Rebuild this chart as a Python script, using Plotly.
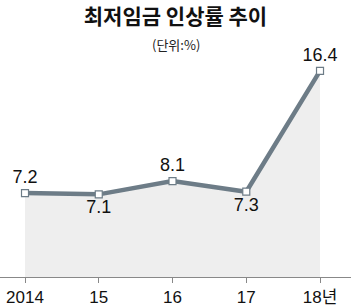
import plotly.graph_objects as go

years = ["2014", "15", "16", "17", "18년"]
rates = [7.2, 7.1, 8.1, 7.3, 16.4]
label_pos = ["top center", "bottom center", "top center", "bottom center", "top center"]

xs = list(range(len(years)))
fig = go.Figure()
fig.add_trace(go.Scatter(
    x=xs, y=rates, mode="lines+markers+text",
    fill="tozeroy", fillcolor="#eeeeee",
    line=dict(color="#6d7c87", width=4.5),
    marker=dict(symbol="square", size=7, color="white", line=dict(color="#6d7c87", width=1.2)),
    text=[f"{v:.1f}" for v in rates], textposition=label_pos,
    textfont=dict(family="Liberation Sans, Noto Sans CJK KR", size=18, color="#111111"),
    cliponaxis=False, hoverinfo="skip",
))
fig.update_layout(
    width=351, height=307,
    margin=dict(l=0, r=0, t=40, b=27),
    paper_bgcolor="white", plot_bgcolor="white",
    showlegend=False,
    title=dict(text="<b>최저임금 인상률 추이</b>", x=0.5, xanchor="center",
               y=1 - 17 / 307, yanchor="middle",
               font=dict(family="Noto Sans CJK KR", size=21, color="#111111")),
    annotations=[dict(text="(단위:%)", x=0.5, xref="paper", y=1.0 - (45 - 40) / 240, yref="paper",
                      yanchor="middle", showarrow=False,
                      font=dict(family="Noto Sans CJK KR", size=13, color="#222222"))],
)
fig.update_xaxes(range=[-0.339, 4.42], tickvals=xs, ticktext=years, showgrid=False, zeroline=False,
                 showline=True, linecolor="#888888", linewidth=1, ticks="outside", ticklen=5,
                 tickcolor="#888888",
                 tickfont=dict(family="Liberation Sans, Noto Sans CJK KR", size=17, color="#111111"))
fig.update_yaxes(range=[0.88, 18.72], visible=False)
fig.write_html("out.html")
